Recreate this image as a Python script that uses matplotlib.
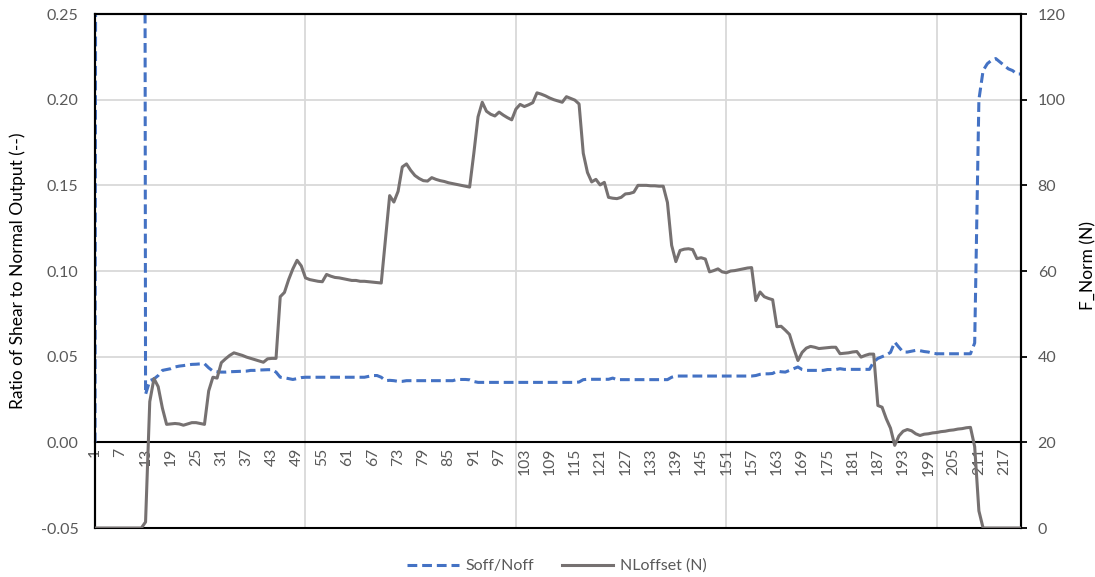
import matplotlib.pyplot as plt
from matplotlib.lines import Line2D
from matplotlib.ticker import FormatStrFormatter

plt.rcParams['font.family'] = ['Lato', 'DejaVu Sans']

# sample index on the category axis
samples = list(range(1, 222))

# normal load offset, N (secondary axis)
nl_offset = [
    0, 0, 0, 0, 0, 0, 0, 0, 0, 0,
    0, 0, 1.4, 29.5, 34.9, 33.0, 28.0, 24.2, 24.3, 24.4,
    24.3, 24.0, 24.3, 24.6, 24.6, 24.4, 24.2, 32.0, 35.2, 35.0,
    38.6, 39.5, 40.3, 40.9, 40.6, 40.3, 39.9, 39.6, 39.3, 39.0,
    38.7, 39.5, 39.6, 39.6, 54.0, 55.0, 58.0, 60.5, 62.5, 61.2,
    58.4, 58.0, 57.8, 57.6, 57.5, 59.2, 58.8, 58.5, 58.4, 58.2,
    58.0, 57.8, 57.8, 57.6, 57.6, 57.5, 57.4, 57.3, 57.2, 67.5,
    77.6, 76.1, 78.6, 84.3, 85.0, 83.5, 82.3, 81.6, 81.1, 81.0,
    81.8, 81.4, 81.1, 80.9, 80.6, 80.4, 80.2, 80.0, 79.8, 79.6,
    87.5, 96.0, 99.4, 97.3, 96.6, 96.2, 97.1, 96.4, 95.8, 95.3,
    97.8, 98.9, 98.4, 98.8, 99.3, 101.6, 101.3, 100.9, 100.4, 100.0,
    99.7, 99.4, 100.7, 100.3, 99.9, 99.0, 87.5, 83.0, 80.8, 81.4,
    80.1, 80.7, 77.2, 77.0, 76.9, 77.2, 78.0, 78.1, 78.4, 80.0,
    80.0, 80.0, 79.9, 79.9, 79.8, 79.8, 76.0, 66.0, 62.2, 64.8,
    65.1, 65.2, 65.0, 62.9, 63.1, 62.8, 59.8, 60.1, 60.5, 59.8,
    59.6, 60.0, 60.1, 60.3, 60.5, 60.7, 60.8, 53.1, 55.1, 54.0,
    53.6, 53.3, 47.0, 47.1, 46.2, 45.2, 42.0, 39.1, 41.0, 42.0,
    42.4, 42.2, 41.9, 42.0, 42.1, 42.2, 42.2, 40.7, 40.8, 40.9,
    41.1, 41.2, 39.9, 40.3, 40.6, 40.6, 28.6, 28.2, 25.5, 23.3,
    19.3, 21.5, 22.6, 23.0, 22.7, 22.0, 21.6, 21.9, 22.0, 22.2,
    22.3, 22.5, 22.6, 22.8, 22.9, 23.1, 23.2, 23.4, 23.5, 19.0,
    4.0, 0, 0, 0, 0, 0, 0, 0, 0, 0, 0,
]

# shear / normal ratio (primary axis); early samples blow up off scale
soff_noff = [
    0, 2.0, 2.0, 2.0, 2.0, 2.0, 2.0, 2.0, 2.0, 2.0,
    2.0, 2.0, 0.028, 0.036, 0.037, 0.039, 0.042, 0.0425, 0.043, 0.044,
    0.0445, 0.0448, 0.0452, 0.0455, 0.0456, 0.0458, 0.0459, 0.0435, 0.0416, 0.0412,
    0.041, 0.041, 0.0412, 0.0413, 0.0414, 0.0415, 0.0416, 0.042, 0.042, 0.0422,
    0.0423, 0.0424, 0.0424, 0.041, 0.038, 0.0377, 0.0372, 0.0367, 0.0372, 0.0378,
    0.038, 0.038, 0.038, 0.038, 0.038, 0.038, 0.038, 0.038, 0.038, 0.038,
    0.038, 0.038, 0.038, 0.038, 0.038, 0.0385, 0.039, 0.039, 0.038, 0.036,
    0.0362, 0.036, 0.0356, 0.0356, 0.036, 0.036, 0.036, 0.036, 0.036, 0.036,
    0.036, 0.036, 0.036, 0.036, 0.036, 0.036, 0.0367, 0.0367, 0.0367, 0.0365,
    0.0355, 0.035, 0.035, 0.035, 0.035, 0.035, 0.035, 0.035, 0.035, 0.035,
    0.035, 0.035, 0.035, 0.035, 0.035, 0.035, 0.035, 0.035, 0.035, 0.035,
    0.035, 0.035, 0.035, 0.035, 0.035, 0.0352, 0.0366, 0.0368, 0.0368, 0.0368,
    0.0368, 0.0368, 0.0368, 0.0375, 0.0366, 0.0366, 0.0366, 0.0366, 0.0366, 0.0366,
    0.0366, 0.0366, 0.0366, 0.0366, 0.0366, 0.0366, 0.0366, 0.038, 0.0387, 0.0387,
    0.0387, 0.0387, 0.0387, 0.0387, 0.0387, 0.0387, 0.0387, 0.0387, 0.0387, 0.0387,
    0.0387, 0.0387, 0.0387, 0.0387, 0.0387, 0.0387, 0.0387, 0.039, 0.0397, 0.040,
    0.040, 0.0402, 0.0416, 0.0412, 0.041, 0.042, 0.043, 0.044, 0.0425, 0.042,
    0.042, 0.042, 0.042, 0.042, 0.0425, 0.0425, 0.0425, 0.043, 0.0426, 0.0426,
    0.0426, 0.0426, 0.0426, 0.0426, 0.0426, 0.047, 0.049, 0.050, 0.051, 0.0525,
    0.0585, 0.0555, 0.0527, 0.0527, 0.0532, 0.0537, 0.0535, 0.053, 0.0527, 0.052,
    0.0517, 0.0517, 0.0517, 0.0517, 0.0517, 0.0517, 0.0517, 0.0517, 0.0517, 0.058,
    0.200, 0.217, 0.221, 0.223, 0.224, 0.222, 0.220, 0.218, 0.217, 0.215, 0.215,
]

x_labels = list(range(1, 218, 6))
x_grid = [51, 101, 151, 201]
ratio_ticks = [-0.05, 0.0, 0.05, 0.10, 0.15, 0.20, 0.25]
force_ticks = [0, 20, 40, 60, 80, 100, 120]

blue = '#4472C4'
grey = '#767171'
text_grey = '#595959'
grid_grey = '#D9D9D9'

fig, ax = plt.subplots(figsize=(10.95, 5.77), dpi=100)
fig.subplots_adjust(left=0.0868, right=0.9324, top=0.9757, bottom=0.0849)
ax2 = ax.twinx()

# gridlines
for g in x_grid:
    ax.axvline(g, color=grid_grey, lw=1.3, zorder=0)
for t in ratio_ticks[2:]:
    ax.axhline(t, color=grid_grey, lw=1.3, zorder=0)

ax.plot(samples, soff_noff, color=blue, lw=2.2, ls=(0, (3.2, 1.6)), zorder=3)
ax2.plot(samples, nl_offset, color=grey, lw=2.2, zorder=3)

ax.set_xlim(1, 221)
ax.set_ylim(-0.05, 0.25)
ax2.set_ylim(0, 120)

# category axis crosses at zero
ax.spines['bottom'].set_position(('data', 0))
for sp in ax.spines.values():
    sp.set_color('black')
    sp.set_linewidth(1.5)
for sp in ax2.spines.values():
    sp.set_color('black')
    sp.set_linewidth(1.5)

ax.set_xticks(x_labels)
ax.set_xticklabels([str(v) for v in x_labels])
ax.tick_params(axis='x', length=0, labelrotation=90, pad=4,
               labelcolor=text_grey, labelsize=11.3)

ax.set_yticks(ratio_ticks)
ax.yaxis.set_major_formatter(FormatStrFormatter('%.2f'))
ax.tick_params(axis='y', length=0, pad=12, labelcolor=text_grey, labelsize=11.5)

ax2.set_yticks(force_ticks)
ax2.tick_params(axis='y', length=4, width=1.3, color='black', direction='out',
                pad=8, labelcolor=text_grey, labelsize=11.5)

ax.set_ylabel('Ratio of Shear to Normal Output (--)', fontsize=12.5, color='black')
ax.yaxis.set_label_coords(-0.075, 0.5)
ax2.set_ylabel('F_Norm (N)', fontsize=12.5, color='black')
ax2.yaxis.set_label_coords(1.064, 0.51)

handles = [
    Line2D([], [], color=blue, lw=2.2, ls=(0, (3.2, 1.6))),
    Line2D([], [], color=grey, lw=2.2),
]
fig.legend(handles, ['Soff/Noff', 'NLoffset (N)'], loc='center',
           bbox_to_anchor=(557 / 1095, 1 - 566 / 577), ncol=2, frameon=False,
           handlelength=3.2, handletextpad=0.45, columnspacing=1.7,
           fontsize=11.5, labelcolor=text_grey)

fig.savefig('out.png', dpi=100)
